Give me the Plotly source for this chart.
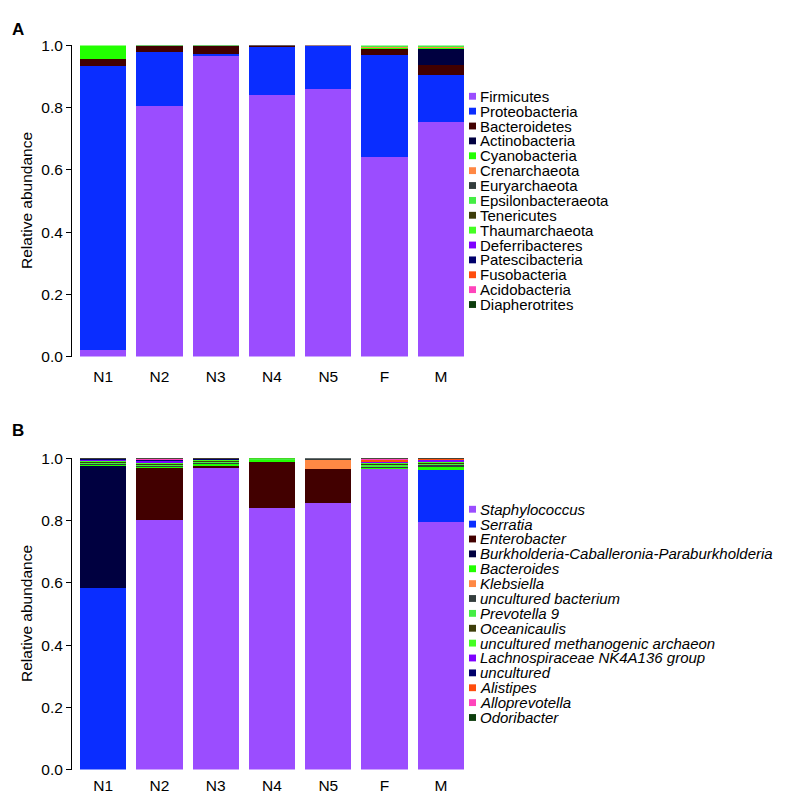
import plotly.graph_objects as go

W, H = 788, 795

samples = ["N1", "N2", "N3", "N4", "N5", "F", "M"]

colors = ["#9b4dff", "#0a2dff", "#420000", "#000040", "#22ff00", "#ff8844",
          "#333d3d", "#44ee44", "#3d3d0a", "#44ff22", "#7f00ff", "#00006b",
          "#ff4d0d", "#ff44bb", "#0d3d0d"]

# panel A - phylum level (rows follow phylum_names, columns follow samples)
phylum_names = ["Firmicutes", "Proteobacteria", "Bacteroidetes", "Actinobacteria",
                "Cyanobacteria", "Crenarchaeota", "Euryarchaeota", "Epsilonbacteraeota",
                "Tenericutes", "Thaumarchaeota", "Deferribacteres", "Patescibacteria",
                "Fusobacteria", "Acidobacteria", "Diapherotrites"]
phylum_abund = [
    [0.020, 0.806, 0.965, 0.842, 0.861, 0.640, 0.754],
    [0.915, 0.172, 0.008, 0.152, 0.137, 0.328, 0.152],
    [0.020, 0.020, 0.025, 0.005, 0.002, 0.020, 0.031],
    [0.000, 0.000, 0.000, 0.000, 0.000, 0.002, 0.053],
    [0.045, 0.000, 0.000, 0.000, 0.000, 0.001, 0.001],
    [0.000, 0.000, 0.000, 0.000, 0.000, 0.004, 0.004],
    [0.000, 0.001, 0.001, 0.001, 0.000, 0.001, 0.001],
    [0.000, 0.001, 0.001, 0.000, 0.000, 0.004, 0.004],
    [0.000] * 7, [0.000] * 7, [0.000] * 7, [0.000] * 7,
    [0.000] * 7, [0.000] * 7, [0.000] * 7,
]

# panel B - genus level
genus_names = ["Staphylococcus", "Serratia", "Enterobacter",
               "Burkholderia-Caballeronia-Paraburkholderia", "Bacteroides", "Klebsiella",
               "uncultured bacterium", "Prevotella 9", "Oceanicaulis",
               "uncultured methanogenic archaeon", "Lachnospiraceae NK4A136 group",
               "uncultured", "Alistipes", "Alloprevotella", "Odoribacter"]
genus_abund = [
    [0.000, 0.801, 0.969, 0.841, 0.858, 0.965, 0.797],
    [0.583, 0.000, 0.002, 0.000, 0.000, 0.000, 0.166],
    [0.000, 0.167, 0.004, 0.149, 0.108, 0.000, 0.001],
    [0.392, 0.000, 0.000, 0.000, 0.000, 0.000, 0.000],
    [0.004, 0.004, 0.008, 0.004, 0.001, 0.006, 0.007],
    [0.000, 0.000, 0.000, 0.000, 0.027, 0.000, 0.000],
    [0.003, 0.004, 0.003, 0.002, 0.006, 0.002, 0.007],
    [0.004, 0.004, 0.004, 0.002, 0.000, 0.006, 0.004],
    [0.002, 0.002, 0.002, 0.001, 0.000, 0.002, 0.002],
    [0.003, 0.003, 0.003, 0.001, 0.000, 0.006, 0.005],
    [0.004, 0.006, 0.001, 0.000, 0.000, 0.003, 0.005],
    [0.003, 0.004, 0.001, 0.000, 0.000, 0.000, 0.002],
    [0.000, 0.001, 0.001, 0.000, 0.000, 0.004, 0.002],
    [0.001, 0.002, 0.001, 0.000, 0.000, 0.003, 0.001],
    [0.001, 0.002, 0.001, 0.000, 0.000, 0.003, 0.001],
]

yticks = [0, 0.2, 0.4, 0.6, 0.8, 1.0]
ytick_text = ["0.0", "0.2", "0.4", "0.6", "0.8", "1.0"]

FONT = "Liberation Sans, Arial, sans-serif"


def px_x(x):
    return x / W


def px_y(y):
    return 1 - y / H


fig = go.Figure()

panels = [
    ("x", "y", phylum_names, phylum_abund, 29, "A", False),
    ("x2", "y2", genus_names, genus_abund, 451, "B", True),
]

shapes = []
annotations = []
for xa, ya, names, abund, top, label, italic in panels:
    for i, name in enumerate(names):
        fig.add_trace(go.Bar(x=samples, y=abund[i], name=name, xaxis=xa, yaxis=ya,
                             marker=dict(color=colors[i], line=dict(width=0)),
                             showlegend=False))
    # legend (drawn by hand so the rows can sit tight like the original)
    for i, name in enumerate(names):
        yc = top + 52 + i * 15.2
        shapes.append(dict(type="rect", xref="paper", yref="paper",
                           x0=px_x(461), x1=px_x(468),
                           y0=px_y(yc + 3.5), y1=px_y(yc - 3.5),
                           fillcolor=colors[i], line=dict(width=0)))
        txt = f"<i>{name}</i>" if italic else name
        annotations.append(dict(text=txt, x=px_x(470), y=px_y(yc), xref="paper", yref="paper",
                                xanchor="left", yanchor="middle", showarrow=False,
                                font=dict(size=15, color="black", family=FONT)))
    annotations.append(dict(text="Relative abundance", textangle=-90,
                            x=px_x(19), y=px_y(top + 159), xref="paper", yref="paper",
                            xanchor="center", yanchor="middle", showarrow=False,
                            font=dict(size=15.5, color="black", family=FONT)))
    annotations.append(dict(text=f"<b>{label}</b>", x=px_x(2), y=px_y(top - 16 if label == "A" else top - 28),
                            xref="paper", yref="paper", xanchor="left", yanchor="middle",
                            showarrow=False, font=dict(size=17, color="black", family=FONT)))

axis_x = dict(range=[-0.5, 6.5], domain=[px_x(67), px_x(461)], showgrid=False,
              zeroline=False, showline=False, ticks="outside", ticklen=6,
              tickcolor="rgba(0,0,0,0)", tickfont=dict(size=15.5, color="black", family=FONT))
axis_y = dict(range=[0, 1], tickvals=yticks, ticktext=ytick_text, showgrid=False,
              zeroline=False, showline=True, linecolor="black", linewidth=1,
              ticks="outside", ticklen=5, tickcolor="black", tickwidth=1,
              anchor="free", position=px_x(63),
              tickfont=dict(size=15.5, color="black", family=FONT))

fig.update_layout(
    width=W, height=H,
    margin=dict(l=0, r=0, t=0, b=0),
    barmode="stack", bargap=0.18,
    plot_bgcolor="white", paper_bgcolor="white",
    xaxis=dict(axis_x, anchor="y"),
    yaxis=dict(axis_y, domain=[px_y(347), px_y(29)]),
    xaxis2=dict(axis_x, anchor="y2", ticklen=2),
    yaxis2=dict(axis_y, domain=[px_y(769), px_y(451)]),
    shapes=shapes,
    annotations=annotations,
)

fig.write_html("out.html")
